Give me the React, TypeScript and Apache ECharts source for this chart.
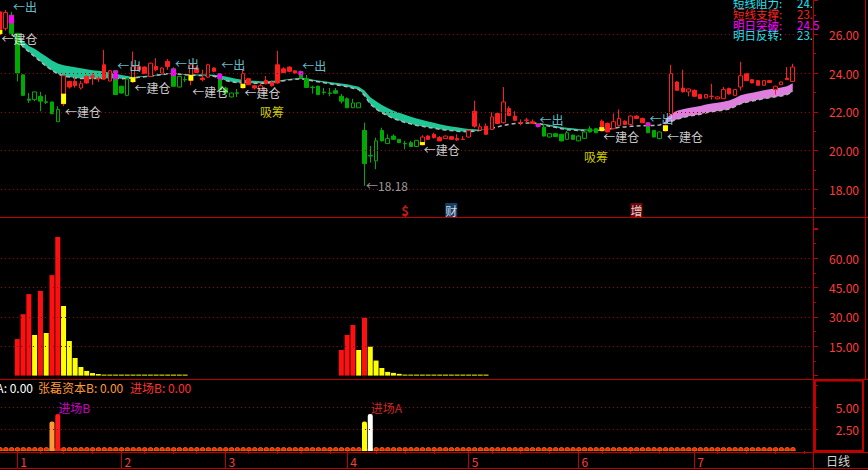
import React, { useEffect, useRef } from 'react';
import * as echarts from 'echarts';

// ---------- price panel (daily candles) ----------
const opens = [
  26.00, 26.31, 26.99, 26.05, 23.91, 22.66, 23.03, 22.80, 22.52, 22.51,
  22.12, 22.41, 23.28, 23.35, 23.23, 23.49, 23.79, 23.70, 23.69, 23.59,
  24.12, 23.32, 23.69, 23.54, 24.17, 23.97, 23.83, 24.17, 24.00, 24.34,
  24.22, 23.83, 23.67, 23.61, 24.03, 23.66, 23.79, 24.09, 23.97, 23.23,
  22.97, 22.98, 23.23, 23.40, 23.23, 23.11, 23.45, 23.35, 23.49, 24.03,
  24.09, 24.00, 24.09, 23.71, 23.27, 23.32, 23.02, 22.97, 23.09, 22.80,
  22.68, 22.46, 22.46, 21.04, 19.75, 20.50, 21.04, 20.62, 20.75, 20.58,
  20.37, 20.41, 20.53, 20.29, 20.58, 20.67, 20.50, 20.62, 20.58, 20.55,
  20.57, 20.70, 21.26, 21.06, 20.84, 21.09, 21.40, 21.44, 21.81, 21.56,
  21.43, 21.56, 21.40, 21.38, 21.21, 20.87, 20.87, 20.84, 20.92, 20.80,
  20.75, 20.96, 21.13, 21.13, 21.01, 20.96, 21.13, 21.30, 21.35, 21.35,
  21.66, 21.44, 21.44, 21.04, 20.96, 21.01, 21.86, 23.11, 23.03, 23.03,
  22.80, 22.68, 22.72, 22.79, 22.67, 22.68, 22.92, 22.85, 23.28, 23.61,
  23.49, 23.37, 23.37, 23.52, 23.15, 23.40, 23.66, 23.57,
];
const closes = [
  27.16, 27.13, 26.05, 24.00, 22.85, 22.60, 22.63, 22.55, 22.49, 21.90,
  21.49, 23.86, 23.57, 23.57, 23.45, 23.83, 23.86, 23.73, 24.43, 24.12,
  22.89, 22.97, 22.85, 24.34, 24.34, 24.31, 24.51, 24.34, 24.26, 24.60,
  23.32, 23.28, 23.65, 24.43, 24.26, 23.74, 24.43, 24.26, 23.15, 22.97,
  22.77, 22.96, 23.97, 23.71, 23.35, 23.35, 23.62, 23.52, 24.43, 24.22,
  24.31, 24.12, 23.74, 23.26, 23.25, 22.89, 23.00, 22.95, 22.96, 22.55,
  22.21, 22.21, 22.21, 19.33, 19.72, 19.47, 20.50, 20.36, 20.58, 20.41,
  20.35, 20.21, 20.21, 20.70, 20.75, 20.84, 20.67, 20.75, 20.72, 20.62,
  20.59, 21.04, 22.03, 21.23, 21.26, 21.74, 21.91, 22.51, 22.17, 21.78,
  21.45, 21.58, 21.49, 21.23, 20.75, 20.70, 20.72, 20.50, 20.58, 20.58,
  20.50, 20.63, 20.96, 20.92, 21.52, 21.40, 21.49, 21.66, 21.52, 21.78,
  21.78, 21.66, 20.92, 20.70, 20.62, 21.30, 23.97, 23.54, 23.23, 23.18,
  23.11, 22.89, 22.89, 22.81, 22.77, 23.15, 23.20, 23.15, 23.86, 23.97,
  23.66, 23.61, 23.61, 23.61, 23.32, 23.54, 23.74, 24.31,
];
const lows = [
  25.98, 26.20, 25.95, 23.57, 22.85, 22.46, 22.55, 22.03, 22.40, 21.90,
  21.49, 22.29, 23.20, 23.25, 23.15, 23.45, 23.40, 23.55, 23.66, 23.57,
  22.89, 22.95, 22.80, 23.49, 24.10, 23.95, 23.80, 24.09, 23.97, 24.17,
  23.30, 23.26, 23.54, 23.37, 24.00, 23.57, 23.75, 24.05, 23.12, 22.90,
  22.75, 22.77, 23.20, 23.38, 23.15, 23.08, 23.42, 23.30, 23.45, 24.00,
  24.05, 23.98, 23.72, 23.23, 22.94, 22.87, 22.89, 22.80, 22.92, 22.43,
  22.20, 22.20, 22.20, 18.18, 19.38, 19.04, 20.48, 20.34, 20.56, 20.39,
  20.07, 20.19, 20.19, 20.27, 20.55, 20.62, 20.48, 20.60, 20.56, 20.50,
  20.55, 20.68, 21.18, 21.04, 20.82, 21.07, 21.38, 21.40, 21.79, 21.54,
  21.30, 21.44, 21.38, 21.20, 20.73, 20.68, 20.70, 20.48, 20.56, 20.56,
  20.48, 20.61, 20.94, 20.90, 20.99, 20.94, 21.10, 21.28, 21.33, 21.33,
  21.63, 21.42, 20.90, 20.68, 20.58, 20.99, 21.78, 23.09, 23.00, 22.80,
  22.78, 22.66, 22.70, 22.63, 22.65, 22.66, 22.90, 22.83, 23.11, 23.59,
  23.47, 23.35, 23.35, 23.50, 22.89, 23.38, 23.64, 23.55,
];
const highs = [
  27.20, 27.25, 27.16, 26.05, 23.91, 22.97, 23.03, 23.03, 22.89, 22.51,
  22.29, 23.91, 23.60, 23.80, 23.60, 23.88, 24.00, 23.83, 25.20, 24.15,
  24.15, 23.35, 23.70, 25.11, 24.45, 24.35, 24.55, 24.77, 24.30, 24.72,
  24.30, 23.86, 23.83, 24.51, 24.35, 24.17, 24.48, 24.30, 24.00, 23.30,
  23.00, 23.18, 24.17, 23.75, 23.40, 23.50, 23.85, 23.62, 25.15, 24.30,
  24.35, 24.15, 24.12, 23.91, 23.35, 23.35, 23.23, 23.23, 23.23, 22.92,
  22.75, 22.67, 22.50, 21.44, 20.24, 20.67, 21.18, 20.84, 20.84, 20.60,
  20.50, 20.50, 20.55, 20.79, 20.80, 20.92, 20.75, 20.78, 20.75, 20.84,
  20.75, 21.08, 22.58, 21.40, 21.40, 21.98, 21.95, 23.28, 22.29, 22.03,
  21.61, 21.69, 21.61, 21.40, 21.35, 20.90, 20.90, 20.86, 21.01, 20.82,
  20.78, 21.09, 21.26, 21.15, 21.60, 21.45, 21.91, 22.12, 21.56, 21.82,
  21.82, 21.70, 21.46, 21.06, 20.98, 21.35, 24.43, 23.60, 24.17, 23.20,
  23.15, 22.92, 22.92, 23.45, 22.80, 23.28, 23.25, 23.18, 24.58, 24.00,
  23.69, 23.64, 23.64, 23.64, 23.35, 23.57, 24.31, 24.48,
];
const hollowIdx = [
  1, 6, 10, 11, 14, 19, 22, 23, 26, 28, 31, 33, 36, 40, 42, 45, 61, 62, 65, 67,
  72, 73, 77, 81, 83, 85, 87, 95, 98, 100, 101, 106, 107, 109, 114, 116, 119,
  122, 124, 125, 127, 128, 132, 134, 135, 137,
];
// [candle index, low, high] painted segments
const yellowMarks = [
  [0, 26.0, 26.22], [11, 22.41, 22.94], [23, 23.54, 23.79], [33, 23.61, 23.91],
  [42, 23.23, 23.45], [73, 20.29, 20.44], [104, 21.01, 21.21], [115, 21.01, 21.30],
];
const magentaMarks = [
  [2, 26.56, 26.99], [20, 23.69, 24.12], [30, 23.86, 24.22], [38, 23.69, 23.97],
  [52, 23.91, 24.09], [93, 21.23, 21.38], [112, 21.26, 21.44],
];
// ribbon (upper / lower line)
const bandUpper = [
  null, null, 26.1, 25.9, 25.65, 25.4, 25.25, 25.05, 24.85, 24.65,
  24.5, 24.4, 24.35, 24.3, 24.25, 24.2, 24.15, 24.12, 24.08, 24.02,
  23.96, 23.9, 23.85, 23.8, 23.82, 23.85, 23.88, 23.92, 23.95, 23.99,
  24.0, 23.98, 23.95, 23.93, 23.93, 23.93, 23.93, 23.92, 23.88, 23.82,
  23.76, 23.7, 23.66, 23.62, 23.6, 23.58, 23.58, 23.6, 23.62, 23.66,
  23.7, 23.72, 23.74, 23.72, 23.67, 23.62, 23.58, 23.54, 23.5, 23.46,
  23.42, 23.36, 23.3, 23.1, 22.75, 22.55, 22.35, 22.2, 22.05, 21.95,
  21.85, 21.75, 21.65, 21.58, 21.5, 21.43, 21.36, 21.3, 21.24, 21.2,
  21.15, 21.12, 21.1, 21.08, 21.1, 21.15, 21.22, 21.3, 21.35, 21.4,
  21.42, 21.42, 21.42, 21.4, 21.38, 21.33, 21.28, 21.22, 21.18, 21.15,
  21.12, 21.1, 21.08, 21.07, 21.06, 21.1, 21.15, 21.2, 21.22, 21.25,
  21.27, 21.28, 21.3, 21.3, 21.32, 21.6, 21.9, 22.05, 22.13, 22.2,
  22.25, 22.3, 22.38, 22.43, 22.47, 22.52, 22.58, 22.7, 22.85, 22.93,
  22.99, 23.05, 23.11, 23.16, 23.21, 23.25, 23.32, 23.47,
];
const bandLower = [
  null, null, 26.0, 25.75, 25.35, 25.1, 24.85, 24.6, 24.35, 24.15,
  23.95, 23.85, 23.8, 23.75, 23.72, 23.72, 23.72, 23.72, 23.72, 23.73,
  23.72, 23.71, 23.72, 23.75, 23.78, 23.81, 23.84, 23.88, 23.92, 23.96,
  23.97, 23.94, 23.91, 23.89, 23.88, 23.87, 23.86, 23.84, 23.74, 23.62,
  23.55, 23.51, 23.49, 23.48, 23.47, 23.47, 23.48, 23.5, 23.54, 23.6,
  23.65, 23.68, 23.7, 23.66, 23.6, 23.55, 23.5, 23.45, 23.4, 23.35,
  23.3, 23.22, 23.15, 22.85, 22.4, 22.15, 21.95, 21.8, 21.65, 21.55,
  21.45, 21.38, 21.3, 21.25, 21.2, 21.15, 21.1, 21.06, 21.03, 21.0,
  20.98, 20.97, 21.0, 21.05, 21.08, 21.15, 21.22, 21.3, 21.35, 21.4,
  21.42, 21.42, 21.42, 21.4, 21.33, 21.25, 21.2, 21.13, 21.08, 21.06,
  21.04, 21.03, 21.03, 21.04, 21.06, 21.1, 21.15, 21.2, 21.22, 21.25,
  21.27, 21.28, 21.3, 21.3, 21.32, 21.45, 21.5, 21.62, 21.7, 21.77,
  21.82, 21.87, 21.95, 22.0, 22.04, 22.09, 22.15, 22.27, 22.42, 22.5,
  22.56, 22.62, 22.68, 22.73, 22.78, 22.82, 22.89, 23.04,
];
const pinkFrom = 115;

// text signals: [candle index, price, text, colour, anchor]
const signals: [number, number, string, string, string][] = [
  [2, 27.46, '←出', '#80ecff', 'r'],
  [0, 25.76, '←建仓', '#ffffff', 'r'],
  [11, 22.04, '←建仓', '#ffffff', 'r'],
  [20, 24.37, '←出', '#80ecff', 'r'],
  [23, 23.28, '←建仓', '#ffffff', 'r'],
  [30, 24.47, '←出', '#80ecff', 'r'],
  [33, 23.07, '←建仓', '#ffffff', 'r'],
  [38, 24.42, '←出', '#80ecff', 'r'],
  [42, 23.02, '←建仓', '#ffffff', 'r'],
  [47, 22.04, '吸筹', '#ffff00', 'c'],
  [52, 24.37, '←出', '#80ecff', 'r'],
  [73, 20.08, '←建仓', '#ffffff', 'r'],
  [63, 18.18, '←18.18', '#c0c0c0', 'r'],
  [93, 21.58, '←出', '#80ecff', 'r'],
  [103, 19.72, '吸筹', '#ffff00', 'c'],
  [104, 20.75, '←建仓', '#ffffff', 'r'],
  [112, 21.63, '←出', '#80ecff', 'r'],
  [115, 20.75, '←建仓', '#ffffff', 'r'],
];
// event badges: [candle index, text, text colour, background]
const eventMarks: [number, string, string, string][] = [
  [70, '$', '#ff2020', 'transparent'],
  [78, '财', '#ffffff', '#1c4f86'],
  [110, '增', '#ffffff', '#8c0a0a'],
];
const eventLevel = 16.93;
const infoLines: [string, string, string][] = [
  ['短线阻力:', '24.', '#22e5f5'],
  ['短线支撑:', '23.', '#ff2020'],
  ['明日突破:', '24.5', '#ff00ff'],
  ['明日反转:', '23.', '#22e5f5'],
];

// ---------- middle panel ----------
const flowRed = [
  [3, 18.7], [4, 31.4], [5, 41.7], [7, 43.3], [9, 51.4], [10, 70.9],
  [59, 13.1], [60, 20.8], [61, 25.9], [63, 29.6],
];
const flowYellow = [
  [6, 20.8], [8, 21.8], [11, 35.6], [12, 17.7], [13, 9.0], [14, 4.4], [15, 2.4],
  [16, 1.3], [17, 0.8], [18, 0.5], [19, 0.5], [20, 0.5], [21, 0.5], [22, 0.5],
  [23, 0.5], [24, 0.5], [25, 0.5], [26, 0.5], [27, 0.5], [28, 0.5], [29, 0.5],
  [30, 0.5], [31, 0.5], [32, 0.5],
  [62, 13.1], [64, 14.8], [65, 7.7], [66, 3.9], [67, 1.9], [68, 1.4], [69, 0.9],
  [70, 0.5], [71, 0.5], [72, 0.5], [73, 0.5], [74, 0.5], [75, 0.5], [76, 0.5],
  [77, 0.5], [78, 0.5], [79, 0.5], [80, 0.5], [81, 0.5], [82, 0.5], [83, 0.5], [84, 0.5],
];

// ---------- bottom panel ----------
const entryIdx = [9, 10, 63, 64];
const entryVals = [3.35, 4.2, 3.35, 4.2];
const entryColors = ['#ff9933', '#ff1a1a', '#ffff00', '#ffffff'];
const entryTexts: [number, number, string, string][] = [
  [10, 5.0, '进场B', '#ff00ff'],
  [64, 5.0, '进场A', '#ff3030'],
];
const baselineLevel = 0.45;

// ---------- axes ----------
const monthIdx = [3, 21, 39, 60, 81, 100, 120];
const monthLabels = ['1', '2', '3', '4', '5', '6', '7'];
const weekTickIdx = [7, 11, 16, 25, 30, 34, 43, 48, 52, 57, 65, 70, 75, 85, 90, 95, 104, 109, 114, 124, 129, 134, 139];
const priceLabels = [18, 20, 22, 24, 26];
const flowLabels = [15, 30, 45, 60];
const entryLabels = [2.5, 5];

const N_CAT = 141;
const SHIFT = 3; // chart canvas starts 3px left of the page edge
const RED = '#ff1e1e';
const GREEN = '#00aa00';
const TEAL = '#1ec896';
const PINK = '#de7ede';
const FRAME = '#c00000';
const GRIDC = '#a00000';
const AXTXT = '#ff3c3c';
const CJK = '"Noto Sans CJK SC", "DejaVu Sans", sans-serif';

export default function App() {
  const ref = useRef<HTMLDivElement>(null);
  useEffect(() => {
    if (!ref.current) return;
    const chart = echarts.init(ref.current, undefined, { renderer: 'svg' });
    const cats = Array.from({ length: N_CAT }, (_, i) => String(i));

    const tealBase = bandLower.map((v, i) => (v == null || i >= pinkFrom ? '-' : v));
    const tealFill = bandUpper.map((v, i) => (v == null || i >= pinkFrom ? '-' : +(v - (bandLower[i] as number)).toFixed(3)));
    const pinkBase = bandLower.map((v, i) => (v == null || i < pinkFrom ? '-' : v));
    const pinkFill = bandUpper.map((v, i) => (v == null || i < pinkFrom ? '-' : +(v - (bandLower[i] as number)).toFixed(3)));

    const gridLine = (vals: number[]) => ({
      silent: true,
      symbol: ['none', 'none'],
      label: { show: false },
      lineStyle: { color: GRIDC, type: [1, 3], width: 1 },
      data: vals.map((v) => ({ yAxis: v })),
    });

    const yAx = (grid: number, min: number, max: number, interval: number, shown: number[]) => ({
      gridIndex: grid,
      type: 'value',
      position: 'right',
      min,
      max,
      interval,
      axisLine: { show: false },
      axisTick: { show: true, length: 5, lineStyle: { color: FRAME } },
      minorTick: { show: true, splitNumber: 2, length: 3, lineStyle: { color: FRAME } },
      splitLine: { show: false },
      minorSplitLine: { show: false },
      axisLabel: {
        show: true,
        align: 'right',
        margin: 46,
        color: AXTXT,
        fontSize: 12,
        fontFamily: CJK,
        formatter: (v: number) => (shown.some((s) => Math.abs(s - v) < 1e-6) ? v.toFixed(2) : ''),
      },
    });

    const txt = (x: number, y: number, text: string, fill: string, align = 'left', size = 12) => ({
      type: 'text', silent: true, x, y,
      style: { text, fill, fontSize: size, fontFamily: CJK, align, verticalAlign: 'middle' },
    });
    const ln = (x1: number, y1: number, x2: number, y2: number) => ({
      type: 'line', silent: true, shape: { x1, y1, x2, y2 }, style: { stroke: FRAME, lineWidth: 1 },
    });

    const option: any = {
      backgroundColor: '#000000',
      animation: false,
      textStyle: { fontFamily: CJK },
      grid: [
        { left: 0, width: 816, top: 0, height: 228.08 },
        { left: 0, width: 816, top: 229.0, height: 146.6 },
        { left: 0, width: 816, top: 385, height: 66 },
      ],
      xAxis: [
        { gridIndex: 0, type: 'category', data: cats, show: false },
        { gridIndex: 1, type: 'category', data: cats, show: false },
        {
          gridIndex: 2,
          type: 'category',
          data: cats,
          position: 'bottom',
          axisLine: { show: false },
          axisTick: {
            show: true,
            alignWithLabel: true,
            interval: (i: number) => monthIdx.includes(i),
            length: 17,
            lineStyle: { color: FRAME },
          },
          axisLabel: {
            show: true,
            interval: (i: number) => monthIdx.includes(i),
            formatter: (_v: string, i: number) => monthLabels[monthIdx.indexOf(i)] ?? '',
            color: AXTXT,
            fontSize: 12,
            align: 'left',
            margin: 4,
            padding: [0, 0, 0, 3],
          },
        },
        {
          gridIndex: 2,
          type: 'category',
          data: cats,
          position: 'bottom',
          offset: 0,
          axisLine: { show: false },
          axisTick: {
            show: true,
            alignWithLabel: true,
            interval: (i: number) => weekTickIdx.includes(i),
            length: 3,
            lineStyle: { color: FRAME },
          },
          axisLabel: { show: false },
        },
      ],
      yAxis: [
        yAx(0, 16, 27.772, 2, priceLabels),
        yAx(1, 0, 75, 15, flowLabels),
        yAx(2, 0, 7.5, 2.5, entryLabels),
      ],
      series: [
        // grid lines
        {
          type: 'line', xAxisIndex: 0, yAxisIndex: 0, z: 0, silent: true, symbol: 'none',
          data: tealBase, lineStyle: { opacity: 0 }, markLine: gridLine(priceLabels),
        },
        {
          type: 'line', xAxisIndex: 1, yAxisIndex: 1, z: 0, silent: true, symbol: 'none',
          data: [[0, 1]], lineStyle: { opacity: 0 }, markLine: gridLine(flowLabels),
        },
        {
          type: 'line', xAxisIndex: 2, yAxisIndex: 2, z: 0, silent: true, symbol: 'none',
          data: [[0, 1]], lineStyle: { opacity: 0 }, markLine: gridLine(entryLabels),
        },
        // ribbon
        {
          type: 'line', xAxisIndex: 0, yAxisIndex: 0, stack: 'teal', z: 1, silent: true,
          symbol: 'none', data: tealBase, lineStyle: { opacity: 0 },
        },
        {
          type: 'line', xAxisIndex: 0, yAxisIndex: 0, stack: 'teal', z: 1, silent: true,
          symbol: 'none', data: tealFill, lineStyle: { opacity: 0 },
          areaStyle: { color: TEAL, opacity: 1 },
        },
        {
          type: 'line', xAxisIndex: 0, yAxisIndex: 0, stack: 'pink', z: 1, silent: true,
          symbol: 'none', data: pinkBase, lineStyle: { opacity: 0 },
        },
        {
          type: 'line', xAxisIndex: 0, yAxisIndex: 0, stack: 'pink', z: 1, silent: true,
          symbol: 'none', data: pinkFill, lineStyle: { opacity: 0 },
          areaStyle: { color: PINK, opacity: 1 },
        },
        {
          type: 'line', xAxisIndex: 0, yAxisIndex: 0, z: 2, silent: true, symbol: 'none',
          data: bandLower.map((v) => (v == null ? '-' : v)),
          lineStyle: { color: '#b4b4b4', width: 1.5, type: [4, 3] },
        },
        // candles
        {
          type: 'candlestick', xAxisIndex: 0, yAxisIndex: 0, z: 3, barWidth: 4,
          itemStyle: { color: RED, color0: GREEN, borderColor: RED, borderColor0: GREEN, borderWidth: 1 },
          data: opens.map((o, i) => {
            const item: any = { value: [o, closes[i], lows[i], highs[i]] };
            if (hollowIdx.includes(i)) item.itemStyle = { color: '#000000', color0: '#000000' };
            return item;
          }),
        },
        // painted segments
        {
          type: 'custom', xAxisIndex: 0, yAxisIndex: 0, z: 4, silent: true,
          data: yellowMarks.map((m) => [m[0], m[1], m[2], 0]).concat(magentaMarks.map((m) => [m[0], m[1], m[2], 1])),
          renderItem: (_p: any, api: any) => {
            const lo = api.coord([api.value(0), api.value(1)]);
            const hi = api.coord([api.value(0), api.value(2)]);
            const w = 5;
            return {
              type: 'rect',
              shape: { x: lo[0] - w / 2, y: hi[1], width: w, height: lo[1] - hi[1] },
              style: { fill: api.value(3) ? '#ff00ff' : '#ffff00' },
            };
          },
        },
        // text signals
        {
          type: 'scatter', xAxisIndex: 0, yAxisIndex: 0, z: 5, silent: true, symbolSize: 1,
          itemStyle: { color: 'rgba(0,0,0,0)' },
          label: { show: true, formatter: '{b}', fontSize: 12, fontFamily: CJK, distance: 1 },
          data: signals.map(([i, p, t, c, a]) => ({
            name: t,
            value: [i, p],
            label: a === 'c'
              ? { color: c, position: 'inside', align: 'center', verticalAlign: 'middle' }
              : { color: c, position: 'right', align: 'left', verticalAlign: 'middle' },
          })),
        },
        // event badges
        {
          type: 'scatter', xAxisIndex: 0, yAxisIndex: 0, z: 5, silent: true, symbolSize: 1, clip: false,
          itemStyle: { color: 'rgba(0,0,0,0)' },
          data: eventMarks.map(([i, t, c, bg]) => ({
            name: t,
            value: [i, eventLevel],
            label: {
              show: true, formatter: '{b}', position: 'inside', color: c, backgroundColor: bg,
              fontSize: t === '$' ? 13 : 12, fontWeight: t === '$' ? 'bold' : 'normal',
              fontFamily: CJK, padding: [1, 0, 0, 0], lineHeight: 13,
            },
          })),
        },
        // middle panel bars
        {
          type: 'bar', xAxisIndex: 1, yAxisIndex: 1, z: 2, barWidth: 5, barGap: '-100%',
          itemStyle: { color: '#ff1010' }, data: flowRed,
        },
        {
          type: 'bar', xAxisIndex: 1, yAxisIndex: 1, z: 2, barWidth: 5, barGap: '-100%',
          itemStyle: { color: '#ffff00' }, data: flowYellow,
        },
        // bottom panel baseline pattern
        {
          type: 'bar', xAxisIndex: 2, yAxisIndex: 2, z: 2, barWidth: 5.4, barGap: '-100%', silent: true,
          itemStyle: { color: '#ff2200', borderColor: '#ff8a1a', borderWidth: 0.7, borderRadius: [3, 3, 0, 0] },
          data: opens.map((_o, i) => [i, baselineLevel]),
        },
        {
          type: 'bar', xAxisIndex: 2, yAxisIndex: 2, z: 3, barWidth: 5, barGap: '-100%',
          itemStyle: { borderRadius: [2, 2, 0, 0] },
          data: entryIdx.map((x, k) => ({ value: [x, entryVals[k]], itemStyle: { color: entryColors[k] } })),
        },
        {
          type: 'scatter', xAxisIndex: 2, yAxisIndex: 2, z: 5, silent: true, symbolSize: 1,
          itemStyle: { color: 'rgba(0,0,0,0)' },
          data: entryTexts.map(([i, v, t, c]) => ({
            name: t,
            value: [i, v],
            label: { show: true, formatter: '{b}', position: 'right', distance: 0, color: c, fontSize: 12, fontFamily: CJK },
          })),
        },
      ],
      graphic: [
        {
          type: 'group',
          x: SHIFT,
          y: 0,
          silent: true,
          children: [
            ln(0, 217.5, 868, 217.5),
            ln(0, 379.5, 868, 379.5),
            ln(0, 452.5, 868, 452.5),
            ln(0, 468.5, 868, 468.5),
            ln(813.5, 0, 813.5, 470),
            ln(865.5, 0, 865.5, 380),
            { type: 'rect', silent: true, shape: { x: 815, y: 380.5, width: 48, height: 70.5 }, style: { stroke: FRAME, lineWidth: 2, fill: 'none' } },
            txt(838, 460.5, '日线', '#d4d4d4', 'center'),
            ...infoLines.flatMap(([lab, val, col], k) => {
              const y = [2.5, 13.5, 24.5, 35][k];
              return [txt(733, y, lab, col, 'left', 11.5), txt(797, y, val, col, 'left', 11.5)];
            }),
            txt(33, 387, '张磊资本A: 0.00', '#ffffff', 'right'),
            txt(38, 387, '张磊资本B: 0.00', '#ff9933'),
            txt(130, 387, '进场B: 0.00', '#ff3030'),
          ],
        },
      ],
    };
    chart.setOption(option);
    return () => chart.dispose();
  }, []);
  return (
    <div
      ref={ref}
      style={{ position: 'fixed', left: -SHIFT, top: 0, width: 868 + SHIFT, height: 470, background: '#000' }}
    />
  );
}
